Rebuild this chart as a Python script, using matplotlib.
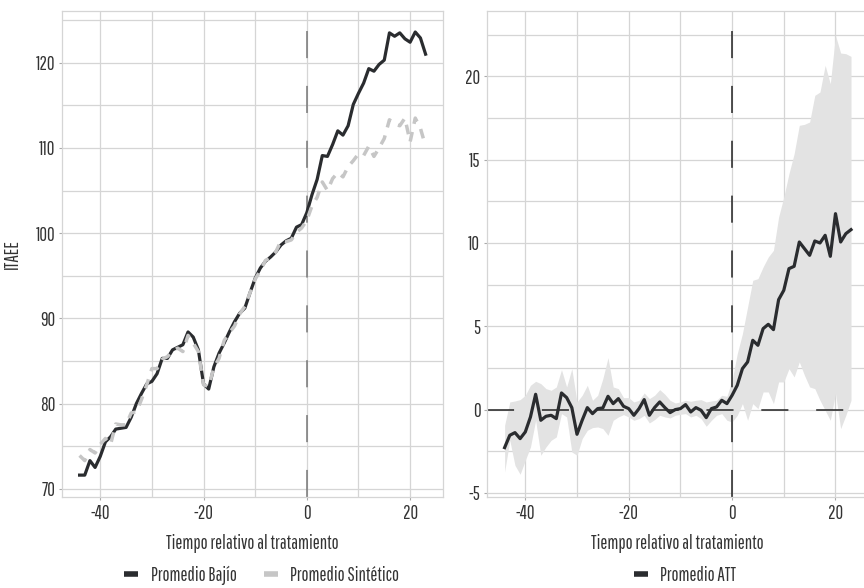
import numpy as np
from matplotlib import pyplot as plt
from matplotlib.lines import Line2D

plt.rcParams['font.family'] = ['Pathway Gothic One', 'Roboto Condensed', 'DejaVu Sans']
plt.rcParams['lines.scale_dashes'] = False
plt.rcParams['axes.unicode_minus'] = False

# tiempo relativo al tratamiento
tiempo = list(range(-44, 24))

bajio = [71.6, 71.6, 73.3, 72.5, 73.8, 75.5, 76.1, 77.0, 77.1, 77.2,
         78.4, 80.0, 81.2, 82.3, 82.6, 83.5, 85.3, 85.3, 86.3, 86.6,
         86.9, 88.4, 87.8, 86.3, 82.3, 81.7, 84.3, 85.9, 87.1, 88.4,
         89.6, 90.6, 91.2, 93.0, 94.7, 95.9, 96.7, 97.2, 97.8, 98.6,
         99.1, 99.4, 100.7, 101.0, 102.4, 104.5, 106.3, 109.1, 109.0, 110.4,
         112.0, 111.5, 112.6, 115.1, 116.4, 117.6, 119.3, 119.0, 119.8, 120.3,
         123.5, 123.1, 123.5, 122.8, 122.4, 123.6, 122.9, 121.0]

sintetico = [73.9, 73.3, 74.6, 74.2, 75.2, 75.9, 75.2, 77.6, 77.5, 77.5,
             78.9, 79.0, 80.5, 82.2, 84.1, 84.1, 85.2, 85.5, 86.2, 86.5,
             86.1, 88.0, 87.1, 86.1, 82.2, 82.0, 84.2, 85.3, 87.4, 88.3,
             89.1, 90.5, 91.4, 93.0, 94.6, 95.6, 96.8, 97.1, 97.8, 99.1,
             99.0, 99.2, 100.1, 100.6, 101.5, 103.2, 104.2, 106.0, 105.0, 106.4,
             107.1, 106.6, 107.8, 108.5, 109.3, 109.1, 110.2, 109.0, 110.0, 111.1,
             113.3, 112.8, 112.6, 113.5, 110.7, 113.5, 112.3, 110.2]

att = [-2.28, -1.54, -1.38, -1.74, -1.34, -0.44, 0.92, -0.64, -0.40, -0.34,
       -0.54, 1.00, 0.72, 0.12, -1.48, -0.64, 0.12, -0.24, 0.06, 0.10,
       0.80, 0.36, 0.66, 0.20, 0.06, -0.34, 0.06, 0.60, -0.34, 0.12,
       0.46, 0.12, -0.18, 0.00, 0.06, 0.30, -0.14, 0.12, -0.04, -0.48,
       0.06, 0.16, 0.56, 0.36, 0.86, 1.46, 2.46, 2.86, 4.16, 3.86,
       4.86, 5.12, 4.80, 6.60, 7.16, 8.46, 8.60, 10.06, 9.66, 9.26,
       10.12, 10.00, 10.46, 9.20, 11.76, 10.06, 10.56, 10.80]

att_sup = [-0.94, 0.46, 0.52, 0.60, 0.86, 1.46, 1.70, 1.56, 1.26, 1.16,
           1.36, 2.40, 1.36, 2.46, 0.46, 0.86, 1.46, 0.56, 0.86, 1.86,
           3.12, 1.36, 1.26, 0.72, 0.72, 0.46, 0.56, 1.00, 0.66, 0.86,
           1.20, 0.92, 0.56, 0.40, 0.46, 0.56, 0.50, 0.56, 0.60, 0.46,
           0.52, 0.56, 0.86, 0.80, 1.76, 3.36, 4.56, 6.16, 7.76, 7.86,
           8.56, 9.16, 9.56, 11.56, 12.76, 14.16, 15.36, 17.06, 17.12, 17.26,
           18.86, 19.06, 20.66, 19.56, 22.46, 21.40, 21.36, 21.20]

att_inf = [-3.74, -1.84, -3.34, -3.88, -3.04, -2.24, -0.64, -2.74, -2.24, -1.84,
           -1.64, -0.24, -0.44, -2.54, -2.74, -1.74, -1.24, -1.08, -1.04, -1.14,
           -1.54, -0.64, -0.44, -0.30, -0.44, -0.64, -0.54, -0.34, -0.80, -0.60,
           -0.34, -0.44, -0.50, -0.34, -0.28, -0.24, -0.44, -0.34, -0.54, -1.00,
           -0.64, -0.34, -0.24, -0.64, -0.74, -0.34, 0.36, -0.64, 0.36, 0.06,
           1.06, 1.06, 0.36, 1.66, 1.66, 2.46, 1.96, 2.86, 2.06, 1.36,
           1.26, 0.56, -0.04, -0.64, 0.96, -1.14, -0.34, 0.56]

oscuro = '#2a2c2f'
gris = '#c6c6c6'
rejilla = '#d5d5d5'
texto = '#333333'
tam = 13.5


def estilo(ax, mayores, menores):
    ax.set_xticks([-40, -20, 0, 20])
    ax.set_xticks([-30, -10, 10], minor=True)
    ax.set_yticks(mayores)
    ax.set_yticks(menores, minor=True)
    ax.grid(True, which='both', color=rejilla, linewidth=0.9)
    ax.set_axisbelow(True)
    for s in ax.spines.values():
        s.set_color(rejilla)
        s.set_linewidth(0.9)
    ax.tick_params(which='major', length=2.5, width=0.8, color='#aaaaaa',
                   labelsize=tam, labelcolor=texto, pad=2.5)
    ax.tick_params(which='minor', length=0)
    ax.set_xlim(-47.35, 26.35)
    ax.set_xlabel('Tiempo relativo al tratamiento', fontsize=tam,
                  color=texto, labelpad=8)


fig = plt.figure(figsize=(8.64, 5.88), dpi=100)

# panel izquierdo: Bajío vs sintético
ax1 = fig.add_axes([0.0721, 0.1543, 0.4405, 0.8275])
ax1.axvline(0, color='#777777', linewidth=1.1, linestyle=(0, (19.5, 20)))
ax1.plot(tiempo, bajio, color=oscuro, linewidth=2.3)
ax1.plot(tiempo, sintetico, color=gris, linewidth=2.5, linestyle=(0, (7, 6)))
estilo(ax1, [70, 80, 90, 100, 110, 120], [75, 85, 95, 105, 115, 125])
ax1.set_ylim(69.0, 126.1)
ax1.set_ylabel('ITAEE', fontsize=tam, color=texto, labelpad=10)

# panel derecho: ATT
ax2 = fig.add_axes([0.564, 0.1543, 0.441, 0.8275])
ax2.fill_between(tiempo, att_inf, att_sup, color='#e3e3e3', linewidth=0)
ax2.axvline(0, color='#222222', linewidth=1.1, linestyle=(0, (19.5, 20)))
ax2.axhline(0, color='#222222', linewidth=1.1, linestyle=(0, (19.5, 20)))
ax2.plot(tiempo, att, color=oscuro, linewidth=2.3)
estilo(ax2, [-5, 0, 5, 10, 15, 20], [-2.5, 2.5, 7.5, 12.5, 17.5, 22.5])
ax2.set_ylim(-5.26, 23.94)

h1 = [Line2D([], [], color=oscuro, linewidth=4, solid_capstyle='butt'),
      Line2D([], [], color=gris, linewidth=4, solid_capstyle='butt')]
fig.legend(h1, ['Promedio Bajío', 'Promedio Sintético'], loc='center',
           bbox_to_anchor=(0.3027, 0.022), ncol=2, frameon=False,
           fontsize=tam, handlelength=0.75, handletextpad=0.65,
           columnspacing=1.45, labelcolor=texto)
h2 = [Line2D([], [], color=oscuro, linewidth=4, solid_capstyle='butt')]
fig.legend(h2, ['Promedio ATT'], loc='center', bbox_to_anchor=(0.793, 0.022),
           frameon=False, fontsize=tam, handlelength=0.75, handletextpad=0.65,
           labelcolor=texto)

fig.savefig('out.png', dpi=100)
